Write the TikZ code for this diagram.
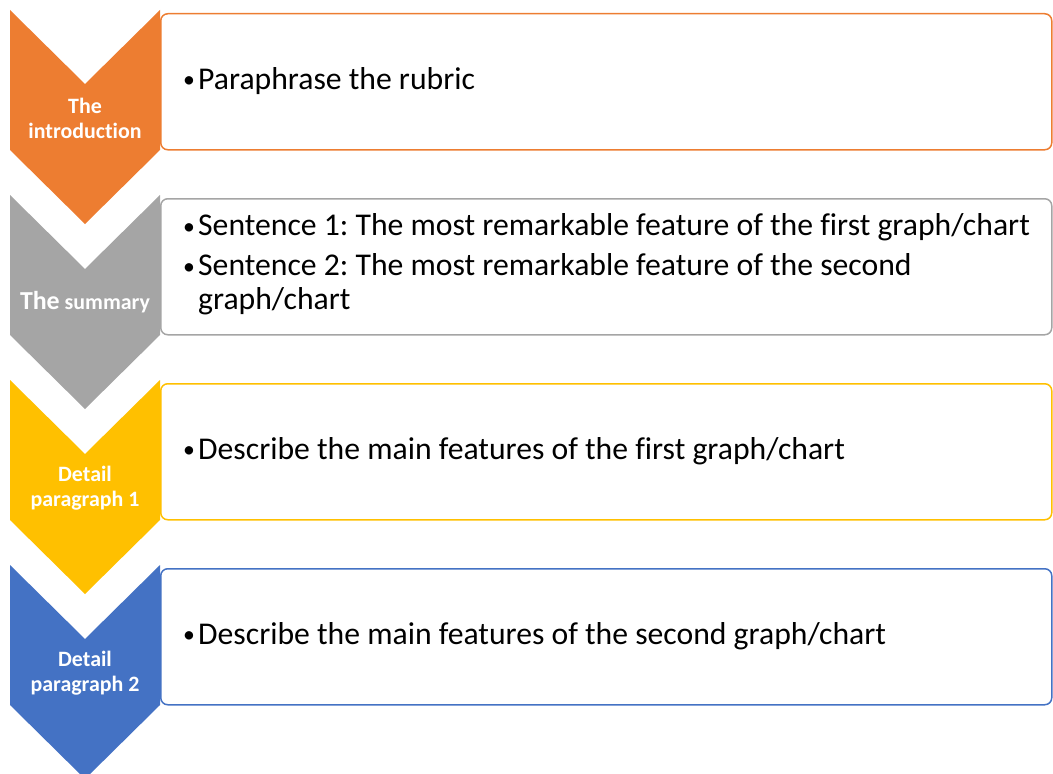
\documentclass[tikz,border=0pt]{standalone}
\usepackage{fontspec}
\setmainfont[Ligatures=NoCommon]{Carlito}
\definecolor{introorange}{HTML}{ED7D31}
\definecolor{summarygray}{HTML}{A5A5A5}
\definecolor{detailgold}{HTML}{FFC000}
\definecolor{detailblue}{HTML}{4472C4}
\newcommand{\bulletbox}{\makebox[16bp][l]{\hspace{1bp}\raisebox{1.5bp}{\scalebox{0.75}{\textbullet}}}}
\tikzset{
  stagebox/.style={draw=#1, line width=1.5bp, rounded corners=7bp, fill=white,
    minimum width=891bp, minimum height=136bp, anchor=north west, inner sep=0pt},
  stagelabel/.style={text=white, font=\fontsize{22}{25}\selectfont\bfseries, align=center},
  stagetext/.style={anchor=west, font=\fontsize{31.8}{34}\selectfont\frenchspacing, align=left, inner sep=0pt}
}

\begin{document}
\begin{tikzpicture}[x=1bp,y=-1bp]
  \useasboundingbox (0,0) rectangle (1053,774);

  % cutii si sageti
  \foreach \i/\col in {1/introorange,2/summarygray,3/detailgold,4/detailblue}{
    \pgfmathsetmacro{\ytop}{10+185*(\i-1)}
    \node[stagebox=\col] (box\i) at (160,\ytop+3) {};
    \fill[\col] (10,\ytop) -- (85,\ytop+74) -- (160,\ytop) -- (160,\ytop+140)
      -- (85,\ytop+214) -- (10,\ytop+140) -- cycle;
  }

  % etichete
  \node[stagelabel] (lab1) at (85,118) {The\\introduction};
  \node[stagelabel] (lab2) at (85,302) {{\fontsize{26}{28}\selectfont The} summary};
  \node[stagelabel] (lab3) at (85,488) {Detail\\paragraph 1};
  \node[stagelabel] (lab4) at (85,673) {Detail\\paragraph 2};

  % texte
  \node[stagetext] (txt1) at (182,81) {\bulletbox Paraphrase the rubric};
  \node[stagetext] (txt2) at (182,266) {\begin{tabular}{@{}l@{}l@{}}
    \bulletbox & Sentence 1: The most remarkable feature of the first graph/chart\\[6bp]
    \bulletbox & Sentence 2: The most remarkable feature of the second\\
    & graph/chart
  \end{tabular}};
  \node[stagetext] (txt3) at (182,451) {\bulletbox Describe the main features of the first graph/chart};
  \node[stagetext] (txt4) at (182,636) {\bulletbox Describe the main features of the second graph/chart};
\end{tikzpicture}
\end{document}
